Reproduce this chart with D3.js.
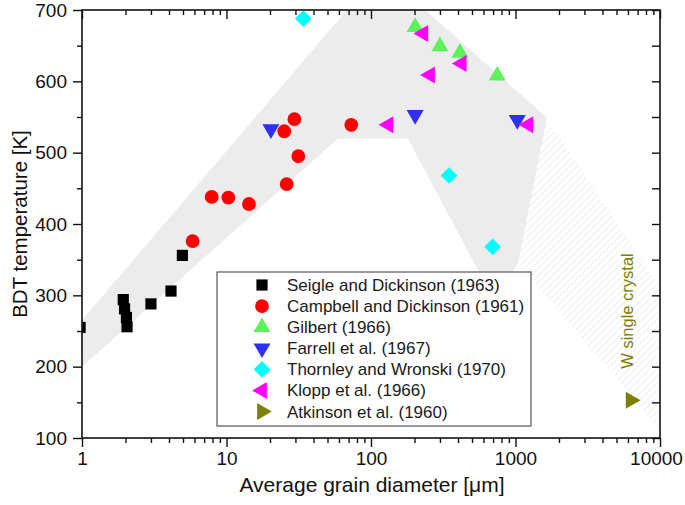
<!DOCTYPE html>
<html><head><meta charset="utf-8">
<script src="https://cdn.jsdelivr.net/npm/d3@7"></script>
<style>body{margin:0;background:#fff} text{font-family:"Liberation Sans", Arial, sans-serif}</style>
</head><body><svg id="c" width="685" height="505"></svg>
<script>
// ---- data ----
const seigleX = [0.97, 1.93, 1.97, 2.03, 2.05, 3.0, 4.13, 4.95];
const seigleY = [255, 294, 281, 269, 256, 288, 306, 356];
const campbellX = [5.83, 7.9, 10.3, 14.3, 25.1, 26.1, 29.5, 31.4, 73];
const campbellY = [376, 438, 437, 428, 530, 456, 547, 495, 539];
const gilbertX = [202, 300, 413, 748];
const gilbertY = [676, 649, 640, 608];
const farrellX = [20.3, 202, 1029];
const farrellY = [533, 553, 546];
const thornleyX = [34, 347, 695];
const thornleyY = [688, 468, 368];
const kloppX = [230, 424, 256, 132, 1226];
const kloppY = [667, 625, 609, 539, 539];
const atkinsonX = [6270];
const atkinsonY = [153];
const bandX = [1, 1, 68, 237, 1650, 1040, 710, 180, 59];
const bandY = [200, 265, 700, 700, 549, 345, 293, 520, 520];
const hatchX = [1650, 9700, 9700, 1040];
const hatchY = [549, 315, 114, 345];
const xTicks = [1, 10, 100, 1000, 10000];
const yTicks = [100, 200, 300, 400, 500, 600, 700];
const yMinor = [150, 250, 350, 450, 550, 650];
const legendLabels = ["Seigle and Dickinson (1963)", "Campbell and Dickinson (1961)", "Gilbert (1966)",
  "Farrell et al. (1967)", "Thornley and Wronski (1970)", "Klopp et al. (1966)", "Atkinson et al. (1960)"];

// ---- chart ----
const svg = d3.select("#c");
const x = d3.scaleLog().domain([1, 10000]).range([82, 660]);
const y = d3.scaleLinear().domain([100, 700]).range([438, 10]);
const xMinor = [];
[1, 10, 100, 1000].forEach(d => { for (let k = 2; k <= 9; k++) xMinor.push(d * k); });

const defs = svg.append("defs");
defs.append("clipPath").attr("id", "plot").append("rect")
  .attr("x", 82).attr("y", 10).attr("width", 578).attr("height", 428);
const pat = defs.append("pattern").attr("id", "hatch").attr("patternUnits", "userSpaceOnUse")
  .attr("width", 5).attr("height", 5).attr("patternTransform", "rotate(45)");
pat.append("line").attr("x1", 0).attr("y1", 0).attr("x2", 0).attr("y2", 5)
  .attr("stroke", "#dedede").attr("stroke-width", 1);

const g = svg.append("g").attr("clip-path", "url(#plot)");
const line = d3.line().x(d => x(d[0])).y(d => y(d[1]));
g.append("path").attr("d", line(bandX.map((v, i) => [v, bandY[i]])) + "Z").attr("fill", "#ececec");
g.append("path").attr("d", line(hatchX.map((v, i) => [v, hatchY[i]])) + "Z").attr("fill", "url(#hatch)");

const series = [
  {xs: seigleX, ys: seigleY, color: "#000000", type: d3.symbolSquare, size: 125, rot: 0},
  {xs: campbellX, ys: campbellY, color: "#ff0000", type: d3.symbolCircle, size: 150, rot: 0},
  {xs: gilbertX, ys: gilbertY, color: "#5cf25c", type: d3.symbolTriangle, size: 125, rot: 0},
  {xs: farrellX, ys: farrellY, color: "#2f2ff5", type: d3.symbolTriangle, size: 125, rot: 180},
  {xs: thornleyX, ys: thornleyY, color: "#00ffff", type: d3.symbolSquare, size: 140, rot: 45},
  {xs: kloppX, ys: kloppY, color: "#ff00ff", type: d3.symbolTriangle, size: 125, rot: -90},
  {xs: atkinsonX, ys: atkinsonY, color: "#808000", type: d3.symbolTriangle, size: 125, rot: 90}
];
series.forEach(s => {
  const p = d3.symbol().type(s.type).size(s.size)();
  g.selectAll(null).data(s.xs.map((v, i) => [v, s.ys[i]])).enter().append("path")
    .attr("d", p).attr("fill", s.color)
    .attr("transform", d => `translate(${x(d[0])},${y(d[1])}) rotate(${s.rot})`);
});

// W single crystal label
svg.append("text").attr("transform", "translate(633,311) rotate(-90)")
  .attr("text-anchor", "middle").attr("font-size", 16.5).attr("fill", "#808000").text("W single crystal");

// legend
const lg = svg.append("g");
lg.append("rect").attr("x", 217).attr("y", 272).attr("width", 314).attr("height", 154)
  .attr("fill", "#fff").attr("stroke", "#555").attr("stroke-width", 1.2);
legendLabels.forEach((lab, i) => {
  const s = series[i];
  const yy = 285 + i * 21.1;
  lg.append("path").attr("d", d3.symbol().type(s.type).size(s.size)()).attr("fill", s.color)
    .attr("transform", `translate(262,${yy}) rotate(${s.rot})`);
  lg.append("text").attr("x", 287).attr("y", yy).attr("dy", "0.35em").attr("font-size", 17)
    .attr("fill", "#1a1a1a").text(lab);
});

// axes
function styleAxis(sel) {
  sel.select(".domain").remove();
  sel.selectAll("line").attr("stroke", "#111").attr("stroke-width", 1.4);
  sel.selectAll("text").attr("font-size", 19).attr("fill", "#111")
    .attr("font-family", '"Liberation Sans", Arial, sans-serif');
}
const xb = svg.append("g").attr("transform", "translate(0,438)")
  .call(d3.axisBottom(x).tickValues(xTicks).tickFormat(d3.format("d")).tickSize(9).tickPadding(5)).call(styleAxis);
xb.selectAll("text").filter(d => d === 10000).attr("dx", -4);
svg.append("g").attr("transform", "translate(0,438)")
  .call(d3.axisBottom(x).tickValues(xMinor).tickFormat("").tickSize(5)).call(styleAxis);
svg.append("g").attr("transform", "translate(0,10)")
  .call(d3.axisBottom(x).tickValues(xTicks).tickFormat("").tickSize(9)).call(styleAxis);
svg.append("g").attr("transform", "translate(0,10)")
  .call(d3.axisBottom(x).tickValues(xMinor).tickFormat("").tickSize(5)).call(styleAxis);
svg.append("g").attr("transform", "translate(82,0)")
  .call(d3.axisLeft(y).tickValues(yTicks).tickSize(9).tickPadding(6)).call(styleAxis);
svg.append("g").attr("transform", "translate(82,0)")
  .call(d3.axisLeft(y).tickValues(yMinor).tickFormat("").tickSize(5)).call(styleAxis);
svg.append("g").attr("transform", "translate(660,0)")
  .call(d3.axisLeft(y).tickValues(yTicks.concat(yMinor)).tickFormat("").tickSize(8)).call(styleAxis);
svg.append("rect").attr("x", 82).attr("y", 10).attr("width", 578).attr("height", 428)
  .attr("fill", "none").attr("stroke", "#111").attr("stroke-width", 1.6);

// titles
svg.append("text").attr("x", 372).attr("y", 492).attr("text-anchor", "middle")
  .attr("font-size", 21).attr("fill", "#111").text("Average grain diameter [\u03bcm]");
svg.append("text").attr("transform", "translate(27,224) rotate(-90)").attr("text-anchor", "middle")
  .attr("font-size", 20.5).attr("fill", "#111").text("BDT temperature [K]");
</script></body></html>
